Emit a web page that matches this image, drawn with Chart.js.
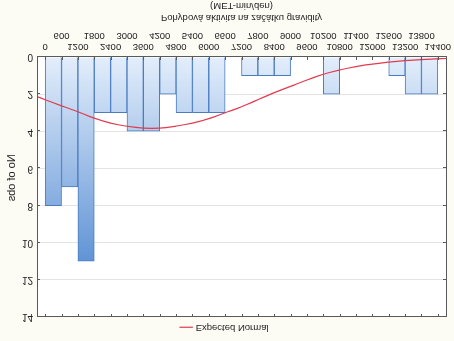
<!DOCTYPE html>
<html>
<head>
<meta charset="utf-8">
<script src="https://cdn.jsdelivr.net/npm/chart.js@4/dist/chart.umd.min.js"></script>
<style>
  html, body { margin: 0; padding: 0; background: #fcfbf4; }
  #wrap { width: 454px; height: 341px; }
  /* the reference is shown upside down (mirrored top-bottom) */
  #graphique { transform: scaleY(-1); }
</style>
</head>
<body>
<div id="wrap"><canvas id="graphique" width="454" height="341"></canvas></div>
<script>
// histogram bins (MET-min/den), width 600
const binEdges = [0, 600, 1200, 1800, 2400, 3000, 3600, 4200, 4800, 5400, 6000, 6600,
                  7200, 7800, 8400, 9000, 9600, 10200, 10800, 11400, 12000, 12600, 13200, 13800, 14400];
const counts = [8, 7, 11, 3, 3, 4, 4, 2, 3, 3, 3, 0, 1, 1, 1, 0, 0, 2, 0, 0, 0, 1, 2, 2];

// expected normal curve
const normalX = [-300, 0, 600, 1200, 1800, 2400, 3000, 3600, 4200, 4800, 5400, 6000, 6600, 7200,
                 7800, 8400, 9000, 9600, 10200, 10800, 11400, 12000, 12600, 13200, 13800, 14400, 14700];
const normalY = [2.13, 2.3, 2.63, 2.95, 3.29, 3.56, 3.73, 3.83, 3.83, 3.72, 3.56, 3.32, 3.0, 2.68,
                 2.3, 1.92, 1.58, 1.24, 0.93, 0.7, 0.52, 0.38, 0.28, 0.2, 0.14, 0.1, 0.08];

const yTicks = [0, 2, 4, 6, 8, 10, 12, 14];

const police = "'Liberation Sans', Arial, sans-serif";
const axeCouleur = "#5a5a5a";

const barres = counts.map((c, i) => ({ x: binEdges[i] + 300, y: c }));
const courbe = normalX.map((x, i) => ({ x: x, y: normalY[i] }));

function degrade(context){
    const area = context.chart.chartArea;
    if(!area) return "#9cc2ec";
    const g = context.chart.ctx.createLinearGradient(0, area.bottom, 0, area.top);
    g.addColorStop(0, "#e3eefb");
    g.addColorStop(1, "#3d7bcb");
    return g;
}

// white plot area + closed frame with inward ticks
const cadre = {
    id: "cadre",
    beforeDraw(chart){
        const a = chart.chartArea;
        const ctx = chart.ctx;
        ctx.save();
        ctx.fillStyle = "#ffffff";
        ctx.fillRect(a.left, a.top, a.right - a.left, a.bottom - a.top);
        ctx.restore();
    },
    afterDraw(chart){
        const a = chart.chartArea;
        const ctx = chart.ctx;
        const sx = chart.scales.x;
        const sy = chart.scales.y;
        ctx.save();
        ctx.strokeStyle = axeCouleur;
        ctx.lineWidth = 1;
        ctx.strokeRect(Math.round(a.left) + 0.5, Math.round(a.top) + 0.5,
                       Math.round(a.right - a.left), Math.round(a.bottom - a.top));
        ctx.beginPath();
        for(const v of binEdges){
            const px = Math.round(sx.getPixelForValue(v)) + 0.5;
            ctx.moveTo(px, a.bottom); ctx.lineTo(px, a.bottom - 3);
            ctx.moveTo(px, a.top); ctx.lineTo(px, a.top + 3);
        }
        for(const v of yTicks){
            const py = Math.round(sy.getPixelForValue(v)) + 0.5;
            ctx.moveTo(a.left, py); ctx.lineTo(a.left + 3, py);
            ctx.moveTo(a.right, py); ctx.lineTo(a.right - 3, py);
        }
        ctx.stroke();
        ctx.restore();
    }
};

const config = {
    data: {
        datasets: [
            {
                type: "line",
                label: "Expected Normal",
                data: courbe,
                borderColor: "#e23a4e",
                backgroundColor: "#e23a4e",
                borderWidth: 1.2,
                pointRadius: 0,
                tension: 0.4,
                fill: false
            },
            {
                type: "bar",
                label: "No of obs",
                data: barres,
                backgroundColor: degrade,
                borderColor: "#4a7cc0",
                borderWidth: 1,
                barPercentage: 1,
                categoryPercentage: 1,
                grouped: false
            }
        ]
    },
    options: {
        responsive: false,
        animation: false,
        layout: { padding: { left: 4, right: 8, top: 9, bottom: 0 } },
        plugins: {
            tooltip: { enabled: false },
            legend: {
                position: "top",
                maxHeight: 15,
                labels: {
                    filter: (item) => item.text === "Expected Normal",
                    usePointStyle: true,
                    pointStyle: "line",
                    boxWidth: 14,
                    padding: 0,
                    color: "#222",
                    font: { family: police, size: 9.5 }
                }
            }
        },
        scales: {
            x: {
                type: "linear",
                offset: false,
                min: -300,
                max: 14700,
                afterBuildTicks: (scale) => { scale.ticks = binEdges.map(v => ({ value: v })); },
                afterFit: (scale) => { scale.height = 57; scale.paddingLeft = 0; scale.paddingRight = 0; },
                ticks: {
                    autoSkip: false,
                    maxRotation: 0,
                    padding: 4,
                    color: "#222",
                    font: { family: police, size: 9.5, lineHeight: 1.25 },
                    callback: (value, index) => index % 2 === 0 ? [String(value), ""] : ["", String(value)]
                },
                grid: { display: false, drawTicks: false, offset: false },
                border: { display: true, color: axeCouleur },
                title: {
                    display: true,
                    text: ["Pohybová aktivita na začátku gravidity", "(MET-min/den)"],
                    color: "#222",
                    font: { family: police, size: 9.5, lineHeight: 1.25 },
                    padding: { top: 5, bottom: 0 }
                }
            },
            y: {
                min: 0,
                max: 14,
                afterBuildTicks: (scale) => { scale.ticks = yTicks.map(v => ({ value: v })); },
                afterFit: (scale) => { scale.width = 33; scale.paddingTop = 0; },
                ticks: {
                    padding: 4,
                    color: "#222",
                    font: { family: police, size: 10 }
                },
                grid: { color: "#e4e4e4", drawTicks: false },
                border: { display: true, color: axeCouleur },
                title: {
                    display: true,
                    text: "No of obs      ",
                    color: "#222",
                    font: { family: police, size: 11 },
                    padding: { top: 1, bottom: 4 }
                }
            }
        }
    },
    plugins: [cadre]
};

const graphique = new Chart(document.querySelector("#graphique"), config);
</script>
</body>
</html>
